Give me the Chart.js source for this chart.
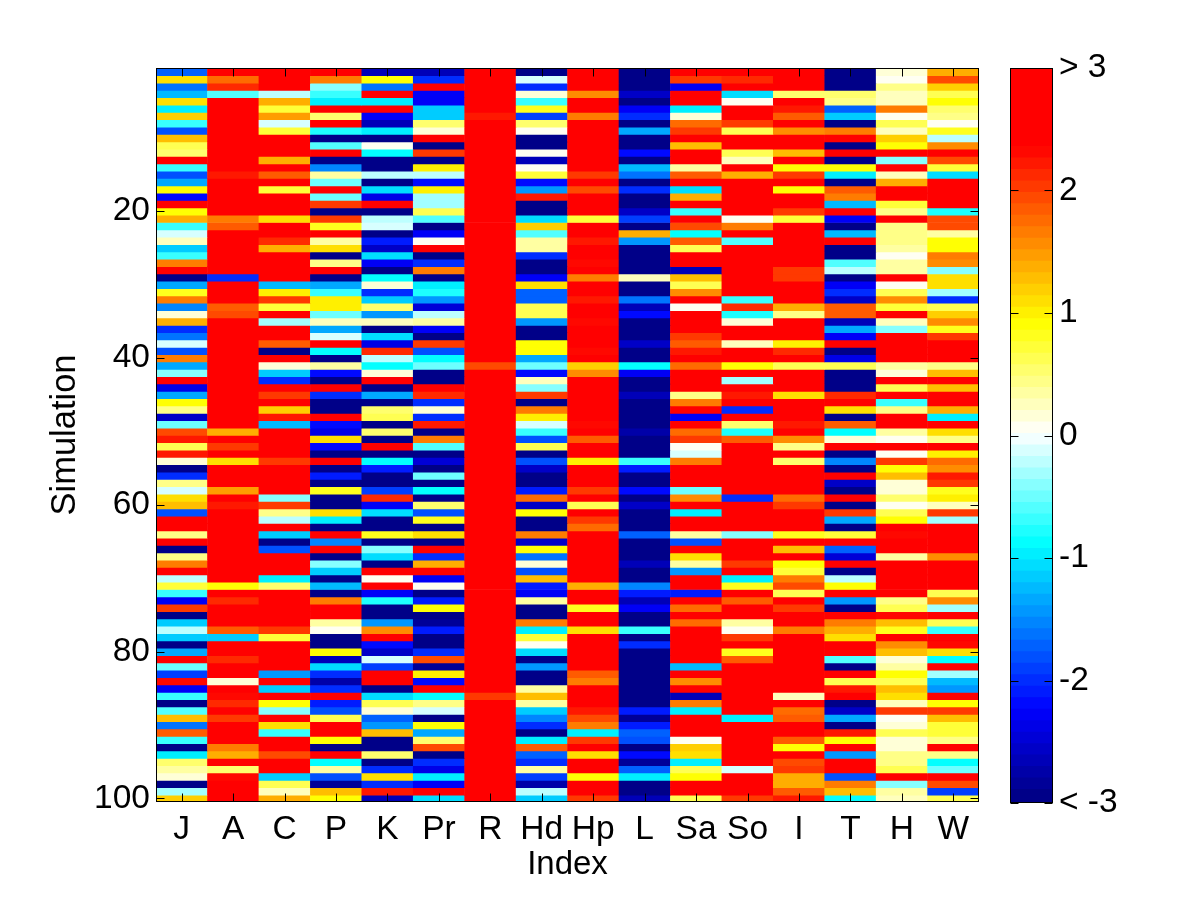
<!DOCTYPE html>
<html>
<head>
<meta charset="utf-8">
<title>Simulation heatmap</title>
<script src="https://cdn.jsdelivr.net/npm/chart.js@4/dist/chart.umd.min.js"></script>
<style>
  html, body { margin:0; padding:0; background:#fff; }
  canvas { position:absolute; top:0; }
  #heat { left:0; }
  #cbar { left:1000px; }
</style>
</head>
<body>
<canvas id="heat" width="1000" height="900"></canvas>
<canvas id="cbar" width="200" height="900"></canvas>
<script>
const indexNames = ['J','A','C','P','K','Pr','R','Hd','Hp','L','Sa','So','I','T','H','W'];
const yTicks = [20,40,60,80,100];
const cbarTicks = [-3,-2,-1,0,1,2,3];
const cbarLabels = ['< -3','-2','-1','0','1','2','> 3'];

// one list per index, simulations 1..100 top to bottom
const colJ = [-1.7,1.05,-1.6,-1.3,1.05,-1,1.2,-.7,-1.8,1.3,.6,.5,3,-.7,-1.85,-1.35,.9,-2.2,3,.9,1.4,-.7,-.15,.2,-1.2,
  -.7,1.65,3,-3,-1.35,.75,1.6,-1.55,.1,1.4,-2,-1.6,-.1,-1.8,1.65,-1.4,-.45,3,-2.4,-1.35,.9,.4,-2.6,-.55,1.9,
  2.2,.6,2.2,.1,-3,-2.05,.4,-.15,1.05,1.3,-1.8,3,3,.4,3,-3,.45,1.6,3,-.2,.7,-.7,-2.3,2.05,-3,
  -1.2,-.25,-1.2,-3,-1.4,3,-.55,-1.9,2.3,-2.3,-.7,-3,-.6,1.3,-1.6,1.85,-.7,-3,-1,.5,.3,.1,-3,-.35,1.15];
const colA = [3,1.7,2.1,-.6,3,3,3,3,3,3,3,3,3,3,2.2,3,3,3,3,3,1.6,1.8,3,3,3,
  3,3,3,-2,3,3,3,1.8,1.9,3,3,3,3,3,3,3,3,3,3,3,3,3,3,3,1.4,
  3,2,3,1.05,3,3,3,1.45,3,2.2,3,3,3,3,3,3,3,3,3,3,.9,3,2.1,3,3,
  3,1.85,-1.2,3,3,2.15,3,3,.1,3,2.3,2.1,2.4,2,3,3,3,1.6,1.35,3,.5,2.3,3,3,3];
const colC = [3,3,3,-.25,1.35,.7,1.45,-.15,.7,3,3,3,1.35,3,1.85,3,.7,3,3,3,1.05,3,3,2.15,1.4,
  3,3,3,3,-1.3,.95,2.05,.7,3,-.35,3,3,1.8,-3,3,.1,-1.2,-2.05,3,2.05,3,1.2,2.2,-1.3,3,
  3,3,3,2.05,3,3,3,3,-.4,2.05,.4,-.25,3,-1.2,-3,-1.8,3,3,3,-.95,.5,3,3,3,3,
  3,2,.7,3,3,3,3,-1.45,2.4,-1.2,2.4,.9,-.4,3,1.05,-.7,3,3,1.9,3,3,-1.2,.6,.2,1.35];
const colP = [3,1.6,-.4,-.75,-.95,3,.5,3,-.8,-3,-.65,3,-3,-1.55,.35,-.55,3,-.55,2,-3,2,.75,3,.3,1.05,
  -3,.45,3,-3,-1.4,-.75,1,.95,-.5,.2,-1.4,-.15,3,-.85,-3,.35,-2.2,-3,3,-2.05,-3,-3,3,-2.2,-2.4,
  1.05,-2.2,-3,3,-3,-2.1,-3,.75,-3,-3,1.05,-1,-3,3,-1.55,3,-3,-.4,-1.2,-3,-1.3,-3,1.6,3,3,
  .35,.05,-3,-3,.85,-2.65,-1.05,-2.05,-2.8,-2.05,3,-2.15,-1.8,.65,3,3,.85,-3,3,-.85,.3,-1.8,-2.9,1.25,.85];
const colK = [-2.7,.9,-1.65,3,-1,3,-2.3,-2.7,-1,-3,0,-.85,-3,-3,-.25,-3,-1.1,-2.4,3,-3,-.25,-.15,-3,-2.1,-2.6,
  -1.1,-2.3,-3,-.85,.1,-2.05,-1.15,.55,-1.45,.25,-3,-1.1,-2.35,2.15,-.25,-.85,.1,3,-3,-1.4,-3,.55,.6,-3,.5,
  -3,3,-3,-.9,-2.15,-3,-3,-1.9,2.1,-2.3,-1.1,-3,-3,.8,-3,-.4,-1.1,-3,3,0,3,-2.3,-.8,-3,-3,
  -1.5,1.55,3,-2.25,-2.6,-.15,-1.95,3,3,-3,-1.1,.6,.1,-1.75,-1.5,1.25,-3,-3,.5,-3,-2.05,1.05,-2,2.2,-2.7];
const colPr = [-2.7,-2.05,3,-2.3,-2.3,-1.2,-1.2,.55,.1,3,-3,2,-3,.95,-.25,-2.2,1,-.35,-.35,.6,-.6,-3,-2.3,0,3,
  -3,-2.05,1.65,-3,-1,-.8,-1.5,-2.5,-.25,.35,-2.3,-3,2.05,-1.8,-.85,-.55,-3,-3,3,2.15,-2.05,.1,-2.05,2.2,-3,
  1.65,-.65,-3,-2.5,-3,-.5,-3,-.9,-3,.55,-1.85,.75,-3,1.1,-3,3,-2.05,1.4,3,-2.3,0,-3,-2.15,.9,-3,
  -2.9,-2.1,-3,-3,-2.05,1.9,-2.9,1,-2.2,3,-.85,.45,-.15,-3,.9,-1.4,.55,1.95,-3,-2,-2.4,-1,-2.3,3,-1.1];
const colR = [3,3,3,3,3,3,2.2,3,3,3,3,3,3,3,3,3,3,3,3,3,3,3,3,3,3,
  3,3,3,3,3,3,3,3,3,3,3,3,3,3,3,1.9,3,3,3,3,3,3,3,3,3,
  3,3,3,3,3,3,3,3,3,3,3,3,3,3,3,3,3,3,3,3,3,3,3,3,3,
  3,3,3,3,3,3,3,3,3,3,2.05,3,3,3,3,3,3,3,3,3,3,2.4,3,3,3];
const colHd = [-3,-.15,-2.05,.15,-.75,.75,-1.95,.55,0,-3,-3,.05,-2.7,0,.7,-2.2,-1.5,2.2,-3,-3,-1.1,1.2,-.6,.3,.35,
  -2,-3,-3,-2.3,1.05,-1.7,-1.7,.6,.6,-1.45,-3,-3,.9,.9,-1.4,-.55,-2.2,.2,-.45,2,-3,1.65,.95,-.15,-.7,
  -1.85,.6,-3,-1.85,-2.6,-3,-3,-2.15,1.75,-2.6,.85,-3,-3,1.6,-2.6,.85,-1.6,.1,-1.85,1.3,-2.1,-2.3,.35,-3,-3,
  1.6,-1,.7,0,-1.05,-3,-1.45,-3,-3,.35,1.25,.3,-1.2,-1.55,-2.05,-3,-1,1.8,-1.7,-2.05,.3,-1.9,-2.8,-.25,-1.2];
const colHp = [3,3,3,1.5,3,3,1.6,3,3,3,3,3,3,3,2.05,3,1.95,3,3,3,.7,3,3,2.2,3,
  3,2.3,3,1.65,3,3,2.2,3,3,2.3,3,3,3,2.3,3,1.2,1.5,3,3,3,3,3,3,2.3,3,
  1.8,3,3,1,3,3,3,2,3,.6,3,2.05,1.7,3,3,3,3,3,3,3,1.4,3,3,.8,3,
  3,1.05,3,3,3,3,3,1.85,1.65,3,3,3,2.2,1.95,1.6,-1,2,3,1.05,3,3,.9,3,3,2.05];
const colL = [-3,-3,-3,-2.6,-3,-2.3,-2.05,-3,-1.35,-3,-3,-2.2,-3,-1.3,-1.6,-3,-2.05,-3,-3,-2.6,-1.9,-3,1.35,-1.5,-3,
  -3,-3,-3,.25,-3,-3,-1.6,-2.7,-2.2,-3,-3,-3,-2.6,-3,-3,-.9,-2.3,-3,-3,-2.7,-3,-3,-3,-3,-2.8,
  -3,-3,-3,-.75,-2.15,-3,-3,-2.2,-3,-2.6,-3,-3,-3,-1.7,-3,-3,-3,-2.7,-3,-3,-1.55,-2.15,-2.7,-2.3,-3,
  -3,-.7,-3,-2.05,-3,-3,-3,-3,-3,-3,-3,-3,-2.1,-2.9,-2.1,-1.75,-1.85,-3,-2.2,-2.9,-1.75,-1,-3,-3,-2.7];
const colSa = [3,2,-2.3,3,2.4,-1,.15,1.7,2,3,1.25,3,3,.35,1.8,3,-1.05,1.4,3,-.7,2.4,1.9,-.85,1.85,.6,
  3,3,-2.7,1.3,.6,1.5,3,0,3,3,3,2.05,1.8,2.2,2.4,1.7,3,3,3,.4,1.65,3,-2.3,3,1.7,
  2.05,0,-.15,1.6,3,3,3,-.5,1.5,3,-.95,3,3,.35,-1.8,3,1.05,.35,-1.45,3,3,-2.15,3,1.7,3,
  1.75,3,3,3,3,3,-1.3,3,1.55,3,-2.7,1.65,-1,3,3,3,0,1.2,1.05,-1,.6,.9,3,3,.6];
const colSo = [3,2.15,3,-1.05,0,3,3,2,.6,3,3,.6,.25,3,1.4,3,3,3,3,3,.05,1.65,3,-.65,3,
  3,3,3,3,3,3,-.7,2.1,-.8,.1,3,3,.25,3,3,.9,3,-.35,3,2.2,3,-2.05,3,.55,-.8,
  1.85,3,3,3,3,3,3,3,-2,3,3,3,3,-.4,3,3,3,2,2.4,-1,.75,3,1.85,3,3,
  .3,.05,2,3,.75,1.85,3,3,3,3,3,3,3,-1,3,3,3,3,3,3,-.1,3,3,3,2.05];
const colI = [3,3,3,.55,3,2.2,1.85,3,1.5,3,3,1.25,3,.9,2,3,.9,3,3,2,.7,3,3,3,3,
  3,3,2,2,3,3,3,1.35,.45,3,3,3,.95,2.15,3,.6,3,3,3,1.05,3,3,3,2.2,3,
  1.55,.45,3,.5,3,3,3,3,1.7,2,3,3,3,.8,3,1.25,3,.9,.7,1.65,1.95,.6,3,2,3,
  3,1.65,3,3,3,3,3,3,3,3,.2,3,1.7,1.85,3,3,1.85,.9,3,1.95,2.05,1.35,1.35,1.8,2.2];
const colT = [-3,-3,-3,.55,.45,-1.75,-1.2,-3,1.65,3,-3,3,-3,.9,-1,-3,1.85,1.65,-1.3,3,-2.3,-3,-1.25,3,-3,
  -3,-.65,-.25,-3,-2.3,-2.05,-2.6,1.85,1.85,-2.7,-1.4,-2.3,2.4,-3,-2.4,.65,-3,-3,-3,2.15,3,1.05,-3,1.85,-.85,
  .1,3,-3,-1.55,-3,3,-2.6,-3,3,-3,2,-1.4,-3,.7,3,-1.7,-2.5,3,-3,-.25,.9,3,-1.45,-3,3,
  1.65,1.35,1.05,3,3,-.6,-3,3,.6,2.2,2.4,-3,-2.6,-1.4,-3,2.2,.85,2.4,-1.45,2.4,2.4,-1.85,1.65,1.3,-.85];
const colH = [.1,0,.45,.25,.25,1.6,0,.6,.25,1.2,.85,3,-.4,3,.2,1.35,3,3,.7,.45,3,.4,.4,.4,.3,
  0,.35,.35,2.4,0,.6,1.5,.7,2.7,.2,-.45,3,3,3,3,.35,.1,3,.65,3,-.7,.4,3,3,.35,
  0,3,0,2.05,.85,1.25,.1,.1,.55,0,.6,.9,3,2.3,3,3,.3,3,3,3,3,3,.4,.6,2.3,
  1.25,.8,3,1.55,1.3,.1,.35,.85,.6,1.3,1.1,.25,2,0,.15,.6,.1,.1,.45,.4,.6,3,-.4,.35,.25];
const colW = [1.35,1.9,1.15,.65,.9,.5,.4,0,.8,-.25,1.5,3,1.95,.7,-1.05,3,3,3,2.4,-.8,1.9,1.9,.35,.85,.85,
  1.6,1.5,-.45,1.05,1.05,-.3,-2.05,.6,1.2,1.5,.75,2.05,3,3,3,.45,1.3,3,1.3,3,3,1.4,-1,3,1.1,
  .4,3,1,1.75,1.5,2.2,2,.8,1,.25,2,-.3,3,3,3,3,1.5,3,3,3,3,.6,1.55,-.3,3,
  .6,-.7,3,2.3,1.1,-.85,3,-.35,-1.25,-1.5,3,.9,2.05,1.25,.7,.7,.45,3,.4,-.85,-.5,3,1.9,-1.95,.65];

const columns = [colJ,colA,colC,colP,colK,colPr,colR,colHd,colHp,colL,colSa,colSo,colI,colT,colH,colW];

const colorStops = [
  [-3,   0,   0, 128],
  [-2.25,0,   0, 255],
  [-.9,  0, 255, 255],
  [0,  255, 255, 255],
  [.9, 255, 255,   0],
  [2.34,255,  0,   0],
  [3,  255,   0,   0],
];
const nLevels = 64;

// map value to one of the 64 flat colour bands of the colorbar
function bandColor(v) {
  const step = 6 / nLevels;
  const k = Math.min(nLevels - 1, Math.max(0, Math.floor((v + 3) / step)));
  const mid = -3 + (k + .5) * step;
  let i = 0;
  while (i < colorStops.length - 2 && mid > colorStops[i + 1][0]) i++;
  const a = colorStops[i], b = colorStops[i + 1];
  const f = (mid - a[0]) / (b[0] - a[0]);
  const ch = n => Math.round(a[n] + (b[n] - a[n]) * f);
  return `rgb(${ch(1)},${ch(2)},${ch(3)})`;
}

const FONT = 'Liberation Sans, Arial, sans-serif';
const tickFont = { family: FONT, size: 33.5 };
const noGrid = { display: false, drawTicks: false };

// box and inward ticks, matlab style
const boxTicks = {
  id: 'boxTicks',
  afterDatasetsDraw(chart, args, opts) {
    const { ctx, chartArea: a, scales } = chart;
    const L = Math.round(a.left) + .5, R = Math.round(a.right) - .5;
    const T = Math.round(a.top) + .5, B = Math.round(a.bottom) - .5;
    ctx.save();
    ctx.strokeStyle = '#000';
    ctx.lineWidth = 1;
    ctx.strokeRect(L, T, R - L, B - T);
    ctx.beginPath();
    if (opts.xTicks) {
      scales.x.ticks.forEach((t, i) => {
        const x = Math.round(scales.x.getPixelForTick(i)) + .5;
        ctx.moveTo(x, T); ctx.lineTo(x, T + 8);
        ctx.moveTo(x, B); ctx.lineTo(x, B - 8);
      });
    }
    scales.y.ticks.forEach(t => {
      const y = Math.round(scales.y.getPixelForValue(t.value)) + .5;
      ctx.moveTo(L, y); ctx.lineTo(L + 8, y);
      ctx.moveTo(R, y); ctx.lineTo(R - 8, y);
    });
    ctx.stroke();
    ctx.restore();
  }
};

// one dataset per simulation row; a small overlap hides antialiasing seams
const rowSets = [];
for (let r = 0; r < 100; r++) {
  const sim = r + 1;
  rowSets.push({
    data: indexNames.map(() => [sim - .5, sim + .6]),
    backgroundColor: columns.map(c => bandColor(c[r])),
    borderWidth: 0,
    grouped: false,
    barPercentage: 1.01,
    categoryPercentage: 1,
  });
}

new Chart(document.getElementById('heat'), {
  type: 'bar',
  data: { labels: indexNames, datasets: rowSets },
  plugins: [boxTicks],
  options: {
    responsive: false,
    animation: false,
    events: [],
    layout: { padding: { left: 45, top: 68, right: 21, bottom: 15 } },
    plugins: { legend: { display: false }, tooltip: { enabled: false }, boxTicks: { xTicks: true } },
    scales: {
      x: {
        grid: noGrid,
        border: { display: false },
        ticks: { color: '#000', font: tickFont, padding: 8, autoSkip: false, maxRotation: 0 },
        title: { display: true, text: 'Index', color: '#000', font: { family: FONT, size: 33 }, padding: 0 },
        afterFit: s => { s.height = 83; },
      },
      y: {
        reverse: true,
        min: .5,
        max: 100.5,
        grid: noGrid,
        border: { display: false },
        afterBuildTicks: s => { s.ticks = yTicks.map(v => ({ value: v })); },
        ticks: { color: '#000', font: tickFont, padding: 6, autoSkip: false },
        title: { display: true, text: 'Simulation', color: '#000', font: { family: FONT, size: 34.5 }, padding: 0 },
        afterFit: s => { s.width = 111; },
      },
    },
  },
});

// colorbar
const bandSets = [];
for (let k = 0; k < nLevels; k++) {
  const lo = -3 + k * 6 / nLevels;
  bandSets.push({
    data: [[lo, lo + 6 / nLevels + .02]],
    backgroundColor: bandColor(lo + 3 / nLevels),
    borderWidth: 0,
    grouped: false,
    barPercentage: 1.02,
    categoryPercentage: 1,
  });
}

new Chart(document.getElementById('cbar'), {
  type: 'bar',
  data: { labels: [''], datasets: bandSets },
  plugins: [boxTicks],
  options: {
    responsive: false,
    animation: false,
    events: [],
    layout: { padding: { left: 10, top: 68, right: 0, bottom: 97 } },
    plugins: { legend: { display: false }, tooltip: { enabled: false }, boxTicks: { xTicks: false } },
    scales: {
      x: { display: false },
      y: {
        position: 'right',
        min: -3,
        max: 3,
        grid: noGrid,
        border: { display: false },
        afterBuildTicks: s => { s.ticks = cbarTicks.map(v => ({ value: v })); },
        ticks: {
          color: '#000', font: tickFont, padding: 6, autoSkip: false,
          callback: v => cbarLabels[cbarTicks.indexOf(v)],
        },
        afterFit: s => { s.width = 147; },
      },
    },
  },
});
</script>
</body>
</html>
